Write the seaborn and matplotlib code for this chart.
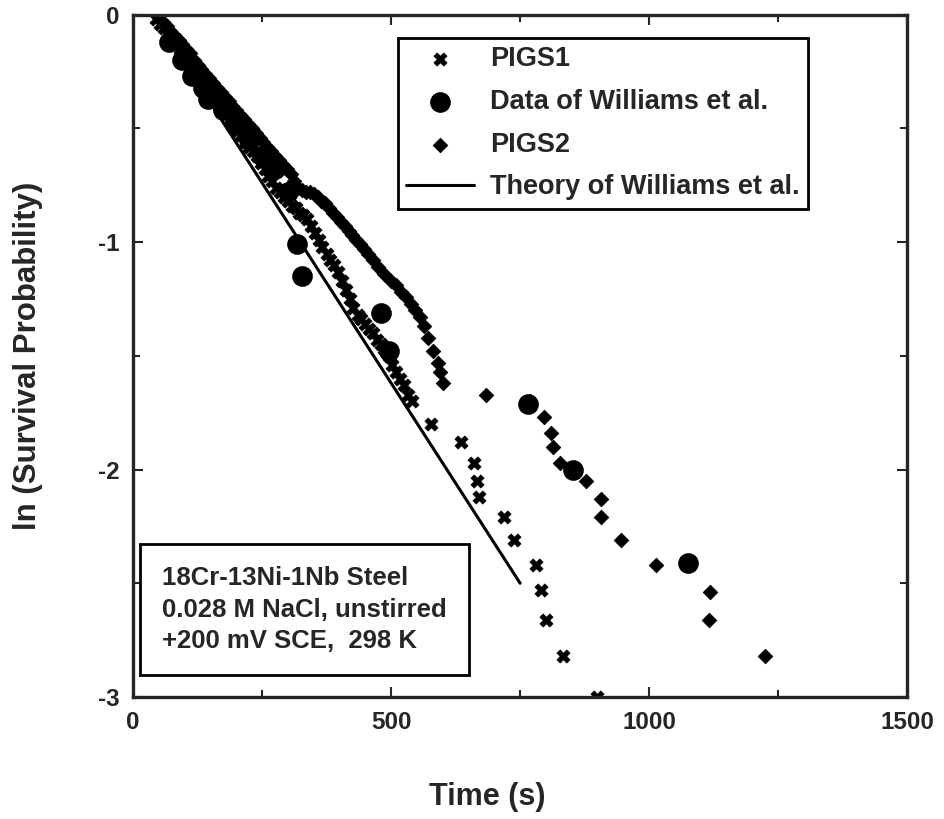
import pandas as pd
import seaborn as sns
import matplotlib.pyplot as plt
from matplotlib.ticker import MultipleLocator

# values
pigs1_t = [45, 52, 60, 67, 75, 82, 90, 97, 105, 112, 120, 127, 135, 142, 150, 157,
           165, 172, 180, 187, 195, 202, 210, 217, 225, 232, 240, 247, 255, 262,
           270, 277, 285, 292, 300, 308, 315, 322, 330, 337, 345, 352, 360, 367,
           375, 382, 390, 397, 405, 412, 420, 427, 435, 442, 450, 457, 465, 472,
           480, 487, 495, 502, 510, 517, 525, 532, 540, 577, 635, 660, 666, 670,
           719, 738, 781, 790, 800, 833, 898]
pigs1_v = [-0.02, -0.04, -0.06, -0.09, -0.11, -0.13, -0.15, -0.18, -0.20, -0.23,
           -0.25, -0.28, -0.30, -0.32, -0.34, -0.37, -0.39, -0.41, -0.43, -0.46,
           -0.48, -0.51, -0.53, -0.56, -0.58, -0.60, -0.62, -0.65, -0.68, -0.71,
           -0.73, -0.76, -0.78, -0.80, -0.82, -0.84, -0.85, -0.87, -0.88, -0.90,
           -0.93, -0.96, -0.99, -1.02, -1.05, -1.08, -1.10, -1.13, -1.17, -1.21,
           -1.25, -1.29, -1.32, -1.34, -1.36, -1.38, -1.40, -1.43, -1.45, -1.47,
           -1.50, -1.54, -1.57, -1.60, -1.63, -1.67, -1.70, -1.80, -1.88, -1.97,
           -2.05, -2.12, -2.21, -2.31, -2.42, -2.53, -2.66, -2.82, -3.00]

williams_t = [70, 95, 115, 135, 146, 175, 200, 225, 250, 275, 300, 318, 328,
              480, 496, 765, 853, 1075]
williams_v = [-0.12, -0.20, -0.27, -0.32, -0.37, -0.42, -0.48, -0.55, -0.62,
              -0.68, -0.78, -1.01, -1.15, -1.31, -1.48, -1.71, -2.00, -2.41]

pigs2_t = [50, 58, 65, 72, 80, 88, 95, 102, 110, 118, 125, 132, 140, 148, 155, 162,
           170, 178, 185, 192, 200, 208, 215, 222, 230, 238, 245, 252, 260, 268,
           275, 282, 290, 298, 305, 312, 320, 328, 335, 342, 350, 358, 365, 372,
           380, 388, 396, 403, 410, 418, 425, 432, 440, 447, 455, 464, 474, 487,
           499, 510, 520, 529, 538, 546, 555, 563, 571, 582, 590, 595, 600, 684,
           770, 797, 809, 814, 828, 878, 907, 907, 946, 1014, 1117, 1115, 1224]
pigs2_v = [0.0, -0.03, -0.05, -0.07, -0.09, -0.11, -0.13, -0.15, -0.17, -0.20,
           -0.22, -0.24, -0.26, -0.28, -0.30, -0.32, -0.34, -0.36, -0.38, -0.40,
           -0.42, -0.44, -0.46, -0.48, -0.50, -0.52, -0.54, -0.56, -0.58, -0.60,
           -0.62, -0.64, -0.66, -0.68, -0.70, -0.73, -0.76, -0.77, -0.78, -0.78,
           -0.79, -0.80, -0.82, -0.83, -0.85, -0.87, -0.89, -0.91, -0.93, -0.95,
           -0.97, -0.99, -1.01, -1.03, -1.05, -1.08, -1.11, -1.14, -1.17, -1.19,
           -1.22, -1.24, -1.27, -1.30, -1.33, -1.37, -1.42, -1.48, -1.53, -1.57,
           -1.62, -1.67, -1.70, -1.77, -1.84, -1.90, -1.97, -2.05, -2.13, -2.21,
           -2.31, -2.42, -2.54, -2.66, -2.82]

theory_t = [40, 750]
theory_v = [0.0, -2.5]

sns.set_style("ticks")
plt.rcParams['font.family'] = ['Liberation Sans', 'DejaVu Sans']
plt.rcParams['font.weight'] = 'bold'
plt.rcParams['axes.unicode_minus'] = False

fig = plt.figure(figsize=(9.44, 8.19), dpi=100)
ax = fig.add_axes([0.141, 0.149, 0.820, 0.833])

sns.scatterplot(x=pigs1_t, y=pigs1_v, marker="X", s=90, color="black",
                edgecolor="black", linewidth=0.5, label="PIGS1", ax=ax)
sns.scatterplot(x=williams_t, y=williams_v, marker="o", s=190, color="black",
                edgecolor="black", label="Data of Williams et al.", ax=ax)
sns.scatterplot(x=pigs2_t, y=pigs2_v, marker="D", s=55, color="black",
                edgecolor="black", label="PIGS2", ax=ax)
sns.lineplot(x=theory_t, y=theory_v, color="black", linewidth=2.2,
             label="Theory of Williams et al.", ax=ax)

ax.set_xlim(0, 1500)
ax.set_ylim(-3, 0)
ax.xaxis.set_major_locator(MultipleLocator(500))
ax.xaxis.set_minor_locator(MultipleLocator(250))
ax.yaxis.set_major_locator(MultipleLocator(1))
ax.yaxis.set_minor_locator(MultipleLocator(0.5))
ax.tick_params(which="both", direction="in", top=True, right=True,
               width=1.5, labelsize=17.5, pad=10)
ax.tick_params(which="major", length=7)
ax.tick_params(which="minor", length=5)
for sp in ax.spines.values():
    sp.set_linewidth(2.4)
    sp.set_visible(True)

ax.set_xlabel("Time (s)", fontsize=22, fontweight="bold")
ax.set_ylabel("ln (Survival Probability)", fontsize=22.5, fontweight="bold")
ax.xaxis.set_label_coords(0.457, -0.125)
ax.yaxis.set_label_coords(-0.117, 0.5)

leg = ax.legend(loc="upper left", bbox_to_anchor=(0.342, 0.966), borderaxespad=0,
                fontsize=19.5, frameon=True, fancybox=False, edgecolor="black",
                handlelength=2.5, handletextpad=0.6, labelspacing=0.62,
                borderpad=0.3)
leg.get_frame().set_linewidth(2)
leg.get_frame().set_alpha(1)

ax.text(0.0375, 0.128, "18Cr-13Ni-1Nb Steel\n0.028 M NaCl, unstirred\n+200 mV SCE,  298 K",
        transform=ax.transAxes, fontsize=18.5, fontweight="bold", va="center",
        ha="left", linespacing=1.4,
        bbox=dict(boxstyle="square,pad=0.85", facecolor="white", edgecolor="black",
                  linewidth=2))

fig.savefig("out.png", dpi=100)
